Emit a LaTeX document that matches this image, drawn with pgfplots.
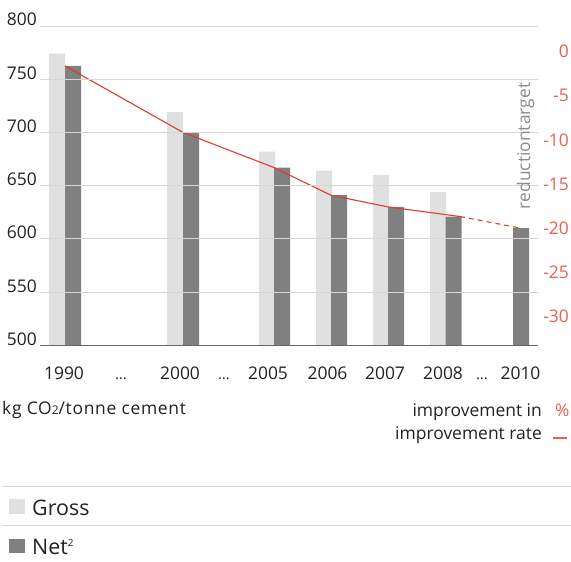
\documentclass[border=0pt]{standalone}
\usepackage{fontspec}
\setmainfont{Open Sans}
\usepackage{pgfplots}
\pgfplotsset{compat=1.18}
\usetikzlibrary{calc}

\definecolor{grossgray}{RGB}{224,224,224}
\definecolor{netgray}{RGB}{128,128,128}
\definecolor{rateRed}{RGB}{226,58,46}
\definecolor{pctRed}{RGB}{232,96,82}
\definecolor{gridgray}{RGB}{215,215,215}
\definecolor{textdark}{RGB}{34,34,34}
\definecolor{notegray}{RGB}{140,140,140}

\newcommand\ticksize{\fontsize{17.5}{20}\selectfont}
\newcommand\gap{{\fontsize{15}{15}\selectfont …}}

\begin{document}
\begin{tikzpicture}[x=1bp,y=1bp]
% specific CO2 emissions, kg per tonne of cement; the percent scale on the
% right is relative to the 1990 level (0 % at 775.9, 5 % = 41.5 kg steps)
\begin{axis}[
  width=498bp, height=319.3bp, scale only axis,
  xmin=40, xmax=538, ymin=500, ymax=800,
  axis on top,
  axis x line*=bottom, axis y line*=left,
  y axis line style={draw=none},
  x axis line style={draw=black!60, line width=0.9bp},
  major tick length=0pt,
  ytick={500,550,...,800},
  ymajorgrids, grid style={gridgray, line width=0.9bp},
  /pgf/number format/assume math mode=true,
  yticklabel style={anchor=base east, inner sep=0pt, xshift=-3bp, font=\ticksize, text=textdark},
  extra y ticks={775.9,734.4,692.9,651.4,609.9,568.4,526.9},
  extra y tick labels={0,-5,-10,-15,-20,-25,-30},
  extra y tick style={grid=none,
    yticklabel style={anchor=east, xshift=532bp, text=pctRed}},
  xtick={64,121,180,224,268,327.5,385,443,482,520.5},
  xticklabels={1990,\gap,2000,\gap,2005,2006,2007,2008,\gap,2010},
  xticklabel style={anchor=base, inner sep=0pt, yshift=-34.7bp, font=\ticksize, text=textdark},
]
% gross emissions
\addplot[ybar, bar shift=0pt, bar width=16, fill=grossgray, draw=none]
  coordinates {(57,774) (175,719) (267,682) (324,664) (381,660) (438,644)};
% net emissions
\addplot[ybar, bar shift=0pt, bar width=16, fill=netgray, draw=none]
  coordinates {(73,762.5) (191,700) (282,667) (339,641) (396,630) (453.5,621) (521,610)};
% improvement rate, achieved and towards the 2010 target
\addplot[rateRed, line width=1.1bp, mark=none]
  coordinates {(65,762.5) (183,700) (274,667) (331,641) (388,630) (460,621)};
\addplot[rateRed, line width=1.1bp, dash pattern=on 5bp off 4bp, mark=none]
  coordinates {(460,621) (521,610)};
\coordinate (O) at (rel axis cs:0,0);
\end{axis}

\pgfresetboundingbox
\begin{scope}[shift={($(O)+(-40,-216.7)$)}]
\path[use as bounding box] (0,0) rectangle (571,562);

\node[rotate=90, anchor=base, inner sep=0pt, font=\ticksize, text=notegray] at (530,416) {reductiontarget};

\node[anchor=base west, inner sep=0pt, font=\ticksize, text=textdark] at (2,147)
  {\addfontfeatures{LetterSpace=4}kg CO{\fontsize{12}{12}\selectfont 2}/tonne cement};
\node[anchor=base east, inner sep=0pt, font=\ticksize, text=textdark] at (542,145) {improvement in};
\node[anchor=base west, inner sep=0pt, font=\ticksize, text=pctRed] at (555,145) {\%};
\node[anchor=base east, inner sep=0pt, font=\ticksize, text=textdark] at (542,122) {improvement rate};
\draw[pctRed, line width=1.2bp] (553,124) -- (567,124);

% legend
\draw[gridgray, line width=0.9bp] (3,76) -- (571,76);
\draw[gridgray, line width=0.9bp] (3,37) -- (571,37);
\fill[grossgray] (9,48) rectangle (25,63);
\node[anchor=base west, inner sep=0pt, font=\fontsize{21.5}{24}\selectfont, text=textdark] at (32,47) {Gross};
\fill[netgray] (9,9) rectangle (25,23);
\node[anchor=base west, inner sep=0pt, font=\fontsize{21.5}{24}\selectfont, text=textdark] at (32,8)
  {Net\raisebox{8bp}{\fontsize{10}{10}\selectfont 2}};
\end{scope}
\end{tikzpicture}
\end{document}
